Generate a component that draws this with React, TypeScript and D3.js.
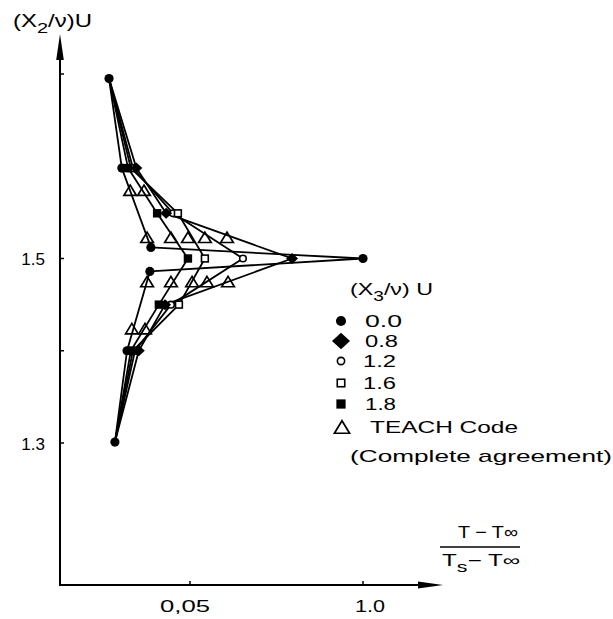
import React from "react";
import * as d3 from "d3";

// Dimensionless temperature (T - T∞)/(Ts - T∞) against (X2/ν)U, one profile per (X3/ν)U
const x3Labels = ["0.0", "0.8", "1.2", "1.6", "1.8"];

// (X2/ν)U stations of the measured profiles
const x2Stations = [1.695, 1.598, 1.549, 1.5, 1.45, 1.4, 1.301];
const x2StationsCentre = [1.695, 1.598, 1.512, 1.5, 1.486, 1.4, 1.301];

// temperature ratio at each station
const theta00 = [0.0266, 0.0303, 0.0387, 0.1, 0.0384, 0.0318, 0.0283];
const theta08 = [0.0266, 0.0345, 0.0431, 0.0795, 0.0428, 0.0352, 0.0283];
const theta12 = [0.0266, 0.0335, 0.0451, 0.0653, 0.0445, 0.0341, 0.0283];
const theta16 = [0.0266, 0.0329, 0.0465, 0.0543, 0.0468, 0.0335, 0.0283];
const theta18 = [0.0266, 0.0321, 0.0405, 0.0494, 0.041, 0.0329, 0.0283];

// TEACH code predictions
const teachX2 = [1.574, 1.574, 1.523, 1.523, 1.523, 1.523, 1.523, 1.475, 1.475, 1.475, 1.475, 1.475, 1.424, 1.424];
const teachTheta = [0.0327, 0.0367, 0.0376, 0.0445, 0.0494, 0.0543, 0.0607, 0.0376, 0.0445, 0.0506, 0.0549, 0.061, 0.0332, 0.037];

const yTicks = [1.3, 1.4, 1.5, 1.7];
const yTickLabels = [
  { v: 1.5, t: "1.5" },
  { v: 1.3, t: "1.3" },
];
const xTicks = [0.05, 0.1];
const xTickLabels = ["0,05", "1.0"];

const FONT = "'Liberation Sans', Arial, sans-serif";

type Shape = "dot" | "diamond" | "ring" | "box" | "block" | "tri";

function Marker({ shape, cx, cy, s = 1 }: { shape: Shape; cx: number; cy: number; s?: number }) {
  switch (shape) {
    case "dot":
      return <circle cx={cx} cy={cy} r={4.6 * s} fill="#000" />;
    case "diamond": {
      const w = 6 * s, h = 5.5 * s;
      return <path d={`M${cx},${cy - h}L${cx + w},${cy}L${cx},${cy + h}L${cx - w},${cy}Z`} fill="#000" />;
    }
    case "ring":
      return <circle cx={cx} cy={cy} r={3.3 * s} fill="#fff" stroke="#000" strokeWidth={1.6} />;
    case "box": {
      const a = 3.4 * s;
      return <rect x={cx - a} y={cy - a} width={2 * a} height={2 * a} fill="#fff" stroke="#000" strokeWidth={1.6} />;
    }
    case "block": {
      const a = 4.2 * s;
      return <rect x={cx - a} y={cy - a} width={2 * a} height={2 * a} fill="#000" />;
    }
    case "tri": {
      const w = 6.3 * s, h = 5.2 * s;
      return (
        <path
          d={`M${cx},${cy - h}L${cx + w},${cy + h}L${cx - w},${cy + h}Z`}
          fill="none"
          stroke="#000"
          strokeWidth={1.7}
          strokeLinejoin="miter"
        />
      );
    }
  }
  return null;
}

export default function App() {
  const W = 613, H = 619;
  const axisX = 60, axisY = 585;

  const x = d3.scaleLinear().domain([0.05, 0.1]).range([190, 363]);
  const y = d3.scaleLinear().domain([1.3, 1.5]).range([443, 258.5]);

  const thetas = [theta00, theta08, theta12, theta16, theta18];
  const x2s = [x2StationsCentre, x2Stations, x2Stations, x2Stations, x2Stations];
  const shapes: Shape[] = ["dot", "diamond", "ring", "box", "block"];

  const line = d3
    .line<[number, number]>()
    .x((d) => x(d[0]))
    .y((d) => y(d[1]));

  const profiles = thetas.map((th, i) => th.map((v, j) => [v, x2s[i][j]] as [number, number]));

  // draw open markers first so the filled ones sit on top
  const drawOrder = [2, 3, 1, 4, 0];

  return (
    <svg
      width={W}
      height={H}
      viewBox={`0 0 ${W} ${H}`}
      style={{ position: "absolute", left: 0, top: 0, background: "#fff" }}
      fontFamily={FONT}
    >
      <rect width={W} height={H} fill="#fff" />

      {/* axes */}
      <line x1={axisX} y1={axisY} x2={axisX} y2={50} stroke="#000" strokeWidth={2} />
      <path d={`M${axisX},34L${axisX + 3.8},60L${axisX - 3.8},60Z`} fill="#000" />
      <line x1={axisX - 1} y1={axisY} x2={425} y2={axisY} stroke="#000" strokeWidth={2} />
      <path d={`M443,${axisY}L418,${axisY - 3.5}L418,${axisY + 3.5}Z`} fill="#000" />

      {yTicks.map((t) => (
        <line key={t} x1={axisX} x2={axisX + 4} y1={y(t)} y2={y(t)} stroke="#000" strokeWidth={1.5} />
      ))}
      {yTickLabels.map((d) => (
        <text key={d.t} x={45} y={y(d.v) + 6.5} fontSize={17} textAnchor="end">
          {d.t}
        </text>
      ))}
      {xTicks.map((t, i) => (
        <g key={t}>
          <line x1={x(t)} x2={x(t)} y1={axisY} y2={axisY - 4} stroke="#000" strokeWidth={1.5} />
          <text
            x={x(t) + (i === 0 ? -5 : 7)}
            y={612}
            fontSize={17}
            textAnchor="middle"
            textLength={i === 0 ? 50 : 30}
            lengthAdjust="spacingAndGlyphs"
          >
            {xTickLabels[i]}
          </text>
        </g>
      ))}

      {/* axis titles */}
      <text x={13} y={27} fontSize={18} textLength={79} lengthAdjust="spacingAndGlyphs">
        (X<tspan dy={6} fontSize={15}>2</tspan>
        <tspan dy={-6}>/ν)U</tspan>
      </text>

      <text x={488} y={538} fontSize={17} textAnchor="middle" textLength={60} lengthAdjust="spacingAndGlyphs">
        T − T∞
      </text>
      <line x1={440} x2={520} y1={547} y2={547} stroke="#000" strokeWidth={1.6} />
      <text x={442} y={566} fontSize={16} textLength={78} lengthAdjust="spacingAndGlyphs">
        T<tspan dy={6} fontSize={14}>s</tspan>
        <tspan dy={-6}>− T∞</tspan>
      </text>

      {/* measured profiles */}
      {profiles.map((p, i) => (
        <path key={x3Labels[i]} d={line(p) ?? ""} fill="none" stroke="#000" strokeWidth={1.8} strokeLinejoin="round" />
      ))}
      {drawOrder.map((i) =>
        profiles[i].map((d, j) => {
          // the end points are common to every profile; mark them once
          if (i !== 0 && (j === 0 || j === profiles[i].length - 1)) return null;
          return <Marker key={`${i}-${j}`} shape={shapes[i]} cx={x(d[0])} cy={y(d[1])} />;
        })
      )}

      {/* TEACH code */}
      {teachX2.map((v, k) => (
        <Marker key={`t${k}`} shape="tri" cx={x(teachTheta[k])} cy={y(v)} />
      ))}

      {/* legend */}
      <text x={350} y={295} fontSize={17} textLength={83} lengthAdjust="spacingAndGlyphs">
        (X<tspan dy={6} fontSize={14}>3</tspan>
        <tspan dy={-6}>/ν) U</tspan>
      </text>
      {x3Labels.map((lab, i) => {
        const cy = [321, 341, 361, 383, 404][i];
        const w = [37, 33, 33, 33, 31][i];
        const lx = [365, 365, 363, 363, 365][i];
        return (
          <g key={lab}>
            <Marker shape={shapes[i]} cx={341} cy={cy} s={i === 1 ? 1.5 : 1.1} />
            <text x={lx} y={cy + 6} fontSize={17} textLength={w} lengthAdjust="spacingAndGlyphs">
              {lab}
            </text>
          </g>
        );
      })}
      <Marker shape="tri" cx={342} cy={427} s={1.2} />
      <text x={370} y={433} fontSize={17} textLength={148} lengthAdjust="spacingAndGlyphs">
        TEACH Code
      </text>
      <text x={350} y={462} fontSize={17} textLength={262} lengthAdjust="spacingAndGlyphs">
        (Complete agreement)
      </text>
    </svg>
  );
}
